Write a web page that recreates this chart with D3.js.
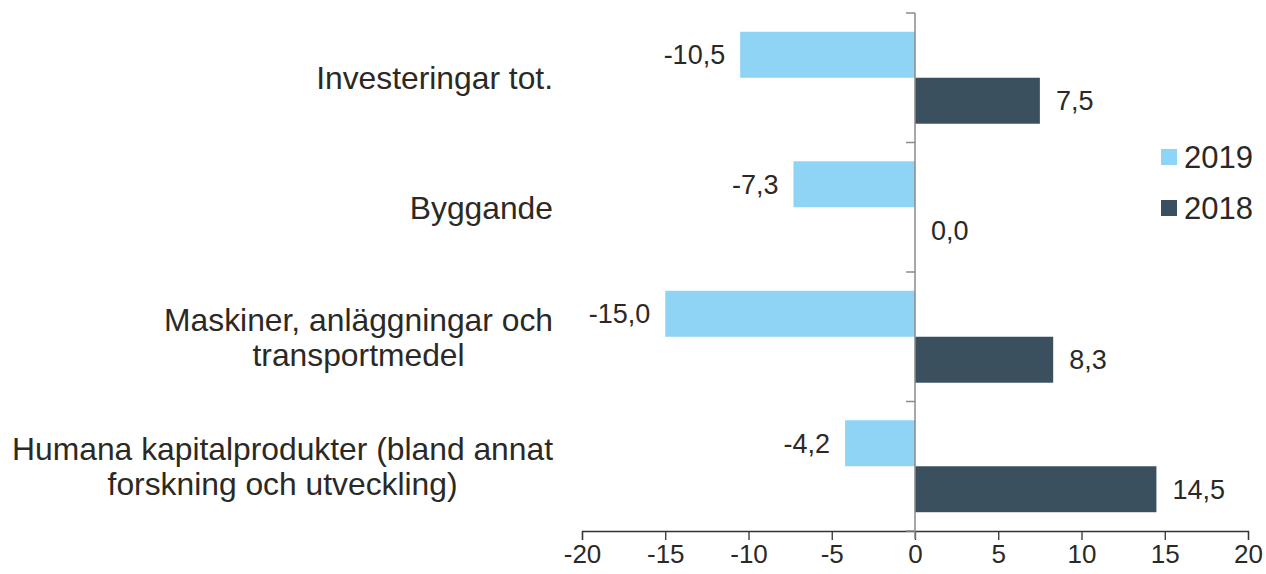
<!DOCTYPE html>
<html>
<head>
<meta charset="utf-8">
<script src="https://cdn.jsdelivr.net/npm/d3@7"></script>
<style>
  body { margin: 0; background: #fff; }
  text { font-family: "Liberation Sans", Arial, sans-serif; fill: #2b2925; }
</style>
</head>
<body>
<svg id="chart" width="1266" height="574"></svg>
<script>
// data
const CATEGORIES = [
    ["Investeringar tot."],
    ["Byggande"],
    ["Maskiner, anläggningar och", "transportmedel"],
    ["Humana kapitalprodukter (bland annat", "forskning och utveckling)"]
];
const SERIES = ["2019", "2018"];
const VALUES_2019 = [-10.5, -7.3, -15.0, -4.2];
const VALUES_2018 = [7.5, 0.0, 8.3, 14.5];
const X_TICKS = [-20, -15, -10, -5, 0, 5, 10, 15, 20];

const COLORS = { "2019": "#8fd3f5", "2018": "#3a505f" };
const PLOT_L = 582, PLOT_R = 1248, PLOT_T = 13, PLOT_B = 531;
const LABEL_R = 553;

const svg = d3.select("#chart");

const x = d3.scaleLinear().domain([-20, 20]).range([PLOT_L, PLOT_R]);
const idx = d3.range(CATEGORIES.length);
const y = d3.scaleBand().domain(idx).range([PLOT_T, PLOT_B])
    .paddingInner(0.29).paddingOuter(0.145);
const ySub = d3.scaleBand().domain(SERIES).range([0, y.bandwidth()]);

const rows = idx.map(i => ({ i: i, lines: CATEGORIES[i], "2019": VALUES_2019[i], "2018": VALUES_2018[i] }));

// bars + value labels
const grp = svg.append("g");
rows.forEach(r => {
    SERIES.forEach(s => {
        const v = r[s];
        const yy = y(r.i) + ySub(s);
        grp.append("rect")
            .attr("x", Math.min(x(0), x(v)))
            .attr("y", yy)
            .attr("width", Math.abs(x(v) - x(0)))
            .attr("height", ySub.bandwidth())
            .attr("fill", COLORS[s]);
        grp.append("text")
            .attr("x", v < 0 ? x(v) - 15 : x(v) + 16)
            .attr("y", yy + ySub.bandwidth() / 2)
            .attr("dy", "0.36em")
            .attr("text-anchor", v < 0 ? "end" : "start")
            .attr("font-size", 27)
            .text(d3.format(".1f")(v).replace(".", ",").replace("−", "-"));
    });
});

// x axis
const xAxis = d3.axisBottom(x).tickValues(X_TICKS).tickSize(9).tickPadding(5)
    .tickFormat(d => String(d));
const gx = svg.append("g").attr("transform", `translate(0, ${PLOT_B})`).call(xAxis);
gx.select(".domain").attr("stroke", "#333").attr("stroke-width", 1.3);
gx.selectAll(".tick line").attr("stroke", "#333").attr("stroke-width", 1.3);
gx.selectAll(".tick text").attr("font-size", 26).attr("font-family", "Liberation Sans, Arial, sans-serif")
    .attr("fill", "#2b2925");

// vertical axis at zero, ticks at category boundaries
const step = y.step();
const bounds = d3.range(CATEGORIES.length + 1).map(k => PLOT_T + k * step);
svg.append("line")
    .attr("x1", x(0)).attr("x2", x(0))
    .attr("y1", PLOT_T).attr("y2", PLOT_B + 8)
    .attr("stroke", "#8a8a8a").attr("stroke-width", 1.5);
svg.selectAll(".ytick").data(bounds).enter().append("line")
    .attr("x1", x(0) - 9).attr("x2", x(0))
    .attr("y1", d => d).attr("y2", d => d)
    .attr("stroke", "#8a8a8a").attr("stroke-width", 1.5);

// category labels: block right-aligned, lines centered within block
const LINE_H = 35;
rows.forEach(r => {
    const cy = y(r.i) + y.bandwidth() / 2;
    const t = svg.append("text")
        .attr("text-anchor", "middle")
        .attr("font-size", 31.8);
    const spans = r.lines.map((ln, k) => t.append("tspan")
        .attr("y", cy + (k - (r.lines.length - 1) / 2) * LINE_H)
        .attr("dy", "0.36em")
        .text(ln));
    const maxW = d3.max(spans, sp => sp.node().getComputedTextLength());
    spans.forEach(sp => sp.attr("x", LABEL_R - maxW / 2));
});

// legend
const leg = svg.append("g").attr("transform", "translate(1161, 149)");
SERIES.forEach((s, k) => {
    const g = leg.append("g").attr("transform", `translate(0, ${k * 51})`);
    g.append("rect").attr("width", 16).attr("height", 16).attr("fill", COLORS[s]);
    g.append("text").attr("x", 23).attr("y", 8).attr("dy", "0.36em")
        .attr("font-size", 31).text(s);
});
</script>
</body>
</html>
